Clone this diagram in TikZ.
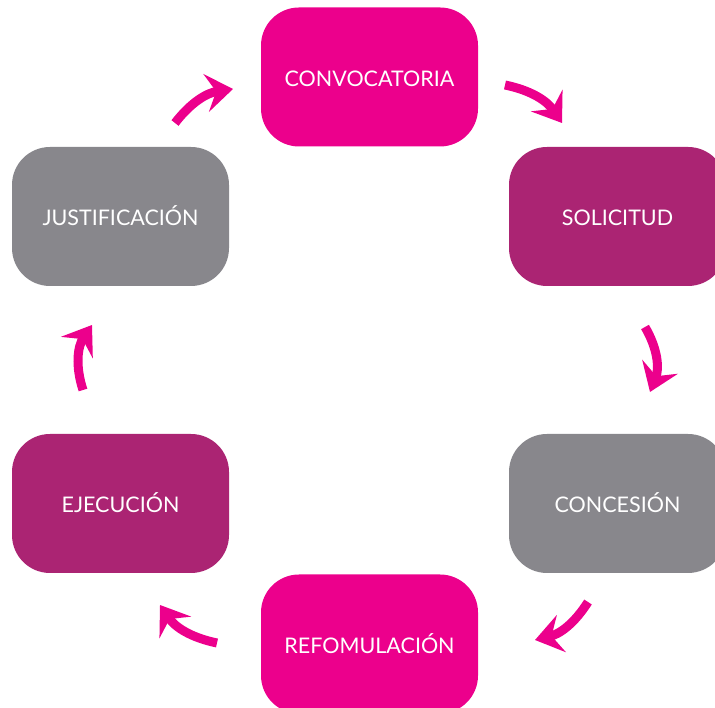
\documentclass[tikz,border=0pt]{standalone}
\usepackage{fontspec}
\setmainfont{Lato}
\usetikzlibrary{arrows.meta}
\definecolor{rosafuerte}{HTML}{EC008C}
\definecolor{morado}{HTML}{AB2473}
\definecolor{gris}{HTML}{88878C}

\begin{document}
\begin{tikzpicture}[x=1pt,y=1pt,
		caja/.style={rounded corners=38pt,minimum width=217pt,minimum height=139pt,text=white,font=\fontsize{21.5}{26}\selectfont,inner sep=0pt,text height=18.5pt,text depth=0pt},
		flecha/.style={rosafuerte,line width=9pt,-{Stealth[length=27pt,width=38pt,inset=10pt]}}]
			\useasboundingbox (0,0) rectangle (715,708);
			\clip (0,0) rectangle (715,708);
			\node[caja,fill=rosafuerte] (conv) at (369.5,631) {CONVOCATORIA};
			\node[caja,fill=morado] (soli) at (617.5,491.5) {SOLICITUD};
			\node[caja,fill=gris] (conc) at (617.5,204.5) {CONCESIÓN};
			\node[caja,fill=rosafuerte] (refo) at (369.5,64) {REFOMULACIÓN};
			\node[caja,fill=morado] (ejec) at (120.5,204.5) {EJECUCIÓN};
			\node[caja,fill=gris] (just) at (120.5,491.5) {JUSTIFICACIÓN};
			\coordinate (a1) at (175,585); \coordinate (b1) at (233,619);
			\coordinate (a2) at (505,623); \coordinate (b2) at (562,585);
			\coordinate (a3) at (645,381); \coordinate (b3) at (650,316);
			\coordinate (a4) at (588,106); \coordinate (b4) at (535,68);
			\coordinate (a5) at (217,65);  \coordinate (b5) at (160,103);
			\coordinate (a6) at (83,318);  \coordinate (b6) at (92,383);
			\draw[flecha] (a1) to[bend left=22] (b1);
			\draw[flecha] (a2) to[bend left=22] (b2);
			\draw[flecha] (a3) to[bend left=26] (b3);
			\draw[flecha] (a4) to[bend left=22] (b4);
			\draw[flecha] (a5) to[bend left=22] (b5);
			\draw[flecha] (a6) to[bend left=26] (b6);
		\end{tikzpicture}
\end{document}
